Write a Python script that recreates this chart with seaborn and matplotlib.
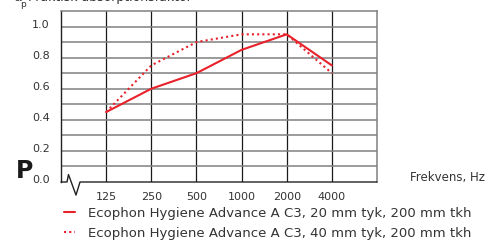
import numpy as np
import pandas as pd
import matplotlib
matplotlib.use("Agg")
import matplotlib.pyplot as plt
from matplotlib.transforms import ScaledTranslation
import seaborn as sns

freqs = ["125", "250", "500", "1000", "2000", "4000"]
alpha_20mm = [0.45, 0.60, 0.70, 0.85, 0.95, 0.75]
alpha_40mm = [0.45, 0.75, 0.90, 0.95, 0.95, 0.70]
labels = [
    "Ecophon Hygiene Advance A C3, 20 mm tyk, 200 mm tkh",
    "Ecophon Hygiene Advance A C3, 40 mm tyk, 200 mm tkh",
]
yticks = [0.0, 0.2, 0.4, 0.6, 0.8, 1.0]

red = "#e8212b"

sns.set_style("white")
plt.rcParams["font.family"] = ["DejaVu Sans"]

fig = plt.figure(figsize=(4.95, 2.41), dpi=100)
ax = fig.add_axes([61 / 495, 59 / 241, 316 / 495, 171 / 241])

df = pd.DataFrame({"freq": freqs, "a20": alpha_20mm, "a40": alpha_40mm})
sns.lineplot(data=df, x="freq", y="a20", sort=False, color=red, lw=1.5,
             ax=ax, label=labels[0])
sns.lineplot(data=df, x="freq", y="a40", sort=False, color=red, lw=1.5,
             linestyle=(0, (1, 1.5)), ax=ax, label=labels[1])

ax.set_xlim(-1, 6)
ax.set_ylim(0, 1.1)
ax.set_xticks(range(len(freqs)))
ax.set_xticklabels(freqs)
ax.set_yticks(yticks)
ax.set_yticklabels([f"{v:.1f}" for v in yticks])
ax.set_xlabel("")
ax.set_ylabel("")

# grid: black verticals, grey horizontals at every 0.1
for i in range(len(freqs)):
    ax.axvline(i, color="#1a1a1a", lw=0.9, zorder=1)
for v in np.arange(0.1, 1.1, 0.1):
    ax.axhline(v, color="#808080", lw=1.1, zorder=1)

ax.tick_params(axis="both", length=0, labelsize=8, colors="#333333")
ax.tick_params(axis="x", pad=7)
ax.tick_params(axis="y", pad=8)
for lab in ax.get_yticklabels():
    lab.set_transform(lab.get_transform() + ScaledTranslation(0, 2 / 72, fig.dpi_scale_trans))

for side in ["top", "right"]:
    ax.spines[side].set_color("#808080")
    ax.spines[side].set_linewidth(1.1)
ax.spines["left"].set_color("#222222")
ax.spines["left"].set_linewidth(1.0)
ax.spines["bottom"].set_visible(False)

# axis break on the bottom line
ax.plot([-1, -0.867, -0.834, -0.668, -0.579, 6], [0, 0, 0.048, -0.084, 0, 0],
        color="#222222", lw=1.0, clip_on=False, zorder=3)

fig.text(410 / 495, 1 - 178 / 241, "Frekvens, Hz", fontsize=8.5, color="#333333",
         va="center", ha="left")
fig.text(28 / 495, 1 - 1 / 241, "Praktisk absorptionsfaktor", fontsize=9,
         color="#333333", va="baseline", ha="left")
fig.text(13 / 495, 1 - 1 / 241, "α", fontsize=9, color="#333333", va="baseline")
fig.text(20 / 495, 1 - 7 / 241, "p", fontsize=6.5, color="#333333", va="baseline")
fig.text(25 / 495, 1 - 171 / 241, "P", fontsize=17, fontweight="bold",
         color="#1a1a1a", va="center", ha="center")

ax.legend(loc="upper left", bbox_to_anchor=(64 / 495, 1 - 207 / 241),
          bbox_transform=fig.transFigure, frameon=False, fontsize=9.5,
          handlelength=0.8, handletextpad=1.0, labelspacing=0.5,
          borderaxespad=0, borderpad=0, labelcolor="#333333")

fig.savefig("out.png", dpi=100)
